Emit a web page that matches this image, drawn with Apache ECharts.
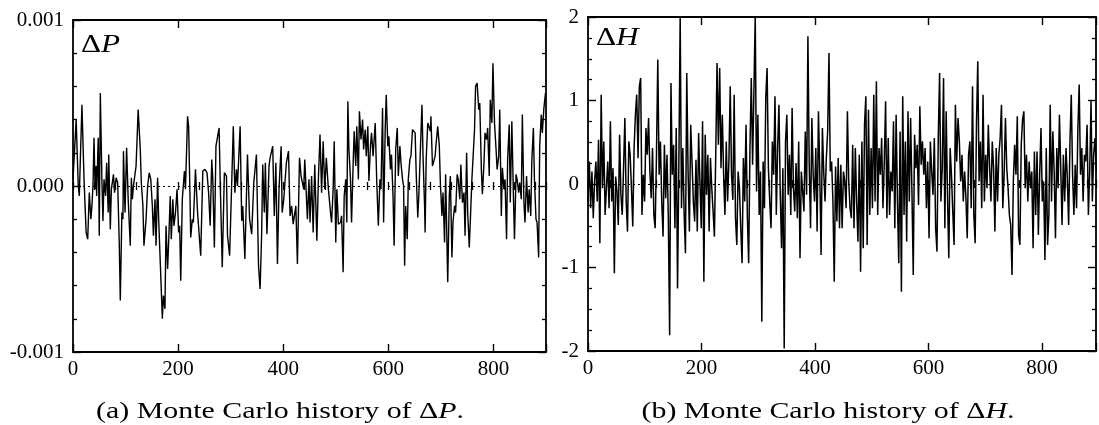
<!DOCTYPE html>
<html>
<head>
<meta charset="utf-8">
<script src="https://cdn.jsdelivr.net/npm/echarts@6/dist/echarts.min.js"></script>
<style>
  html, body { margin: 0; padding: 0; background: #fff; }
  #chart { width: 1099px; height: 425px; }
</style>
</head>
<body>
<div id="chart"></div>
<script>
// ---------------- data ----------------
// Monte Carlo step and Delta P (in units of 1e-4)
const deltaP = [
[0,0.4],[6,4.0],[10,0.0],[12,-0.6],[17,4.9],[21,0.4],[25,-2.8],[28,-3.2],[31,-0.4],[34,-2.0],[36,-1.2],[38,0.0],[40,2.9],[42,-0.2],[44,1.2],[45,-0.6],[48,2.9],[50,-3.0],[52,5.6],[55,0.4],[57,-2.1],[59,0.4],[62,-0.6],[64,1.4],[67,-1.6],[68,1.9],[71,-2.6],[73,-0.2],[77,0.7],[79,-0.4],[82,0.5],[85,0.2],[88,-3.4],[90,-6.9],[93,-1.6],[95,-2.0],[96,2.1],[99,-1.6],[102,2.3],[105,-0.8],[109,-3.6],[111,0.5],[113,-0.8],[115,0.0],[120,1.2],[124,4.6],[128,2.2],[130,0.2],[133,-1.2],[135,-3.6],[139,-2.0],[142,0.0],[145,0.8],[148,0.4],[151,-1.2],[153,-3.0],[156,-0.8],[158,-3.6],[161,0.5],[163,-2.0],[167,-5.4],[170,-8.0],[172,-6.6],[175,-7.4],[177,-2.4],[180,-5.0],[182,-3.4],[185,-0.6],[187,-3.2],[190,-0.8],[192,-2.4],[195,-1.6],[198,-0.2],[201,-2.8],[203,-2.4],[205,-5.7],[208,-0.8],[212,0.9],[214,-0.2],[218,4.2],[220,3.6],[222,0.4],[224,-3.1],[227,-2.0],[229,-2.2],[233,1.0],[237,-1.6],[243,-4.2],[247,0.9],[251,1.0],[255,0.8],[258,-0.4],[261,-2.4],[264,1.6],[266,0.4],[269,-3.7],[272,2.4],[278,3.5],[280,0.4],[284,-4.9],[288,0.8],[292,0.6],[294,-3.0],[298,-4.2],[302,0.2],[305,3.6],[308,-0.4],[311,1.0],[313,0.0],[318,3.6],[321,-2.1],[323,-1.2],[327,-4.4],[332,1.9],[336,-2.0],[340,-2.9],[344,0.2],[349,1.9],[353,-4.8],[356,-6.2],[359,-2.8],[361,1.3],[364,-1.6],[366,1.4],[369,-2.9],[373,1.2],[375,1.7],[380,2.4],[383,-1.8],[386,1.4],[389,-4.7],[392,-0.2],[396,2.4],[398,-1.6],[401,-0.8],[406,1.4],[410,2.1],[413,-1.8],[416,-1.2],[419,-2.3],[424,-1.2],[427,-4.7],[431,1.7],[434,0.6],[439,-0.2],[441,1.6],[446,-2.0],[449,0.4],
[451,-2.2],[454,0.6],[457,-2.8],[460,1.3],[464,-3.3],[467,0.5],[470,3.1],[473,-0.4],[476,2.7],[479,-0.2],[482,1.7],[486,-0.2],[490,-1.6],[492,-2.2],[495,-0.2],[497,2.7],[500,-3.4],[502,-0.2],[505,-2.3],[509,-2.2],[511,-1.8],[514,-5.2],[516,-0.6],[519,0.4],[521,-2.2],[523,5.1],[525,2.2],[528,0.4],[530,-2.2],[533,1.3],[535,3.3],[538,1.2],[540,3.6],[543,0.4],[545,4.5],[548,2.8],[551,4.0],[553,2.2],[556,3.4],[558,1.8],[561,3.6],[563,0.3],[566,2.4],[568,3.2],[571,1.8],[575,3.8],[578,0.2],[581,-2.4],[584,0.4],[586,-0.2],[589,4.7],[591,-2.2],[594,3.4],[596,5.5],[599,2.4],[601,3.0],[604,1.0],[606,1.9],[609,-0.7],[611,-3.6],[614,2.2],[617,3.5],[619,0.6],[622,2.4],[624,1.4],[627,0.4],[629,0.0],[631,-4.8],[633,-1.2],[636,-3.2],[638,0.4],[641,1.6],[643,1.8],[646,3.4],[648,3.5],[651,3.2],[653,0.8],[656,-1.9],[658,-0.6],[661,2.2],[664,4.9],[666,1.8],[669,-1.2],[670,-2.8],[672,1.6],[675,3.8],[678,3.7],[680,3.3],[681,4.2],[684,1.2],[686,1.1],[689,1.8],[691,2.6],[694,3.6],[697,2.4],[699,0.2],[702,-1.8],[704,-0.4],[707,-3.4],[709,0.7],[713,-5.8],[716,-0.6],[718,0.6],[721,-4.3],[723,-2.2],[726,-1.2],[728,-1.6],[731,0.7],[733,0.4],[736,-0.8],[738,1.3],[741,-1.0],[744,-0.4],[746,-3.0],[749,2.0],[751,-1.6],[754,-3.7],[756,-2.1],[759,0.4],[761,1.6],[764,3.4],[766,6.0],[769,6.2],[772,4.6],[774,5.0],[777,1.0],[779,-0.5],[782,1.4],[784,3.2],[787,2.8],[789,3.5],[792,0.6],[794,5.2],[797,3.8],[799,7.4],[802,3.8],[805,2.2],[807,1.0],[810,1.8],[812,4.6],[815,-1.8],[817,1.1],[820,-0.2],[822,0.4],[825,-3.2],[827,1.6],[830,3.7],[832,-1.0],[835,3.9],[838,-0.6],[840,-3.2],[843,0.7],[845,0.4],[848,-0.4],[850,0.2],[853,-0.8],[855,4.3],[858,-1.0],[860,-2.2],[863,0.6],[866,-1.6],[868,-0.2],[871,-1.8],[873,1.5],[876,3.5],[878,0.4],[881,-2.0],[883,-2.2],[886,-4.3],[888,2.4],[891,4.3],[893,3.2],[896,4.7],[899,5.6]
];
const P_UNIT = 1e-4;

// Delta H, sampled every H_STEP Monte Carlo steps
const H_STEP = 2.32;
const deltaH = [
-0.21,0.27,-0.29,0.15,-0.41,0.03,0.27,-0.21,0.53,-0.71,
1.07,-0.05,0.51,-0.37,-0.05,0.27,-0.29,0.75,-0.21,0.19,
-1.07,0.09,-0.09,-0.49,0.59,-0.13,-0.37,0.19,0.79,-0.21,
-0.57,0.51,0.35,-0.05,-0.51,0.43,0.83,1.07,0.31,1.17,
1.27,-0.37,0.11,-0.21,0.67,0.35,0.79,0.15,-0.17,0.43,
-0.37,-0.53,0.35,1.49,0.11,0.51,-0.21,-0.63,0.47,-0.17,
0.35,-0.41,-1.81,1.21,0.11,0.47,-0.53,0.67,-1.25,0.23,
2.02,-0.29,0.43,-0.35,-0.83,1.33,0.15,-0.57,0.71,0.27,
-0.21,-0.45,0.29,-0.57,0.61,0.03,-0.53,0.75,-1.17,0.59,
-0.13,0.35,-0.57,0.31,-0.05,-0.33,-0.63,0.35,1.45,0.47,
1.39,0.19,0.83,0.11,-0.37,0.51,-0.21,0.27,1.17,0.11,
-0.19,1.07,-0.41,-0.73,0.15,-0.05,-0.53,-0.95,0.31,-0.21,
0.71,-0.37,-0.95,0.43,1.27,0.23,1.11,2.02,-0.09,0.83,
-0.37,0.15,-1.65,0.27,-0.29,1.03,1.39,0.19,-0.21,-0.53,
0.51,0.11,1.05,-0.37,0.43,0.95,-0.13,-0.77,0.19,-1.97,
0.51,0.83,-0.13,0.35,-0.37,0.91,-0.05,-0.33,0.25,-0.41,
0.51,-0.89,0.15,0.15,-0.33,0.63,-0.13,1.77,0.23,-0.53,
0.79,0.11,-0.21,0.43,-0.57,0.87,0.15,-0.85,0.67,0.15,
-0.21,0.31,0.63,1.57,0.15,0.27,-0.21,-1.17,0.21,-0.45,
0.31,-0.53,0.23,
-0.53,0.15,0.03,-0.29,0.87,0.03,-0.29,-0.41,0.47,-0.53,
0.43,-0.21,-0.69,0.35,-1.05,0.51,-0.77,0.71,1.05,-0.73,
0.89,-0.37,0.43,-0.29,1.07,-0.21,1.23,-0.37,0.43,0.11,
0.55,-0.29,0.27,0.99,-0.41,0.55,-0.37,0.15,-0.09,0.75,
-0.53,0.83,-0.21,-0.95,0.63,-1.29,1.05,-0.37,0.51,-0.69,
0.87,-0.21,0.79,-0.09,-1.09,0.59,0.19,0.47,-0.25,0.93,
0.23,0.51,0.11,0.43,-0.29,0.27,-0.65,0.51,0.15,-0.13,
0.55,-0.53,-0.81,0.55,1.33,-0.21,0.19,1.27,-0.53,0.87,
-0.13,-0.89,0.43,0.11,-0.33,-0.73,0.95,0.27,0.79,0.51,
0.03,0.35,-0.21,0.15,-0.17,-0.65,0.35,0.51,-0.29,1.17,
-0.37,-0.71,0.71,1.47,0.03,0.51,-0.29,1.07,-0.21,0.35,
-0.05,0.71,0.19,-0.21,0.51,0.19,-0.57,0.43,-0.21,0.35,
0.55,0.95,-0.29,0.11,0.79,0.19,-0.05,-0.37,-0.49,-1.09,
0.03,0.47,0.11,0.81,-0.61,-0.73,0.47,0.77,0.87,-0.05,
0.35,-0.21,0.27,-0.05,0.15,-0.77,0.39,-0.37,0.39,-0.61,
0.11,0.67,-0.21,0.03,-0.91,0.43,-0.73,-0.37,0.95,-0.21,
0.63,0.15,-0.65,0.43,-0.05,0.83,0.19,-0.49,0.35,-0.21,
0.43,0.07,-0.49,0.51,1.07,0.11,-0.37,0.23,-0.29,0.65,
1.19,0.11,0.43,-0.21,0.35,0.27,0.71,-0.37,0.15,1.0,
-0.21,0.35,0.55,0.15
];

// tick labels
const xTickLabels = ['0', '200', '400', '600', '800'];
const yTickLabelsP = ['-0.001', '0.000', '0.001'];
const yTickLabelsH = ['-2', '-1', '0', '1', '2'];
const captionA = '(a) Monte Carlo history of Δ{i|P}.';
const captionB = '(b) Monte Carlo history of Δ{i|H}.';

// ---------------- chart ----------------
const SERIF = 'Liberation Serif';
const INK = '#000';
const TICK_FONT = 21;
const chart = echarts.init(document.getElementById('chart'), null, { renderer: 'canvas' });

function xLabel(v) {
  const k = Math.round(v / 200);
  return (Math.abs(v - k * 200) < 1e-6 && k >= 0 && k < xTickLabels.length) ? xTickLabels[k] : '';
}

function makeXAxes(gi, max) {
  const base = {
    gridIndex: gi, type: 'value', min: 0, max: max,
    splitLine: { show: false },
    axisLine: { show: true, onZero: false, lineStyle: { color: INK, width: 1.8 } }
  };
  const major = { inside: true, length: 8, lineStyle: { color: INK, width: 1.4 } };
  const minor = { inside: true, length: 4, lineStyle: { color: INK, width: 1.3 } };
  return [
    Object.assign({}, base, { position: 'bottom', interval: 200, axisTick: major,
      axisLabel: { show: true, margin: 7, color: INK, fontFamily: SERIF, fontSize: TICK_FONT, formatter: xLabel, showMaxLabel: true } }),
    Object.assign({}, base, { position: 'bottom', interval: 40, axisLine: { show: false }, axisTick: minor, axisLabel: { show: false } }),
    Object.assign({}, base, { position: 'top', interval: 200, axisTick: major, axisLabel: { show: false } }),
    Object.assign({}, base, { position: 'top', interval: 40, axisLine: { show: false }, axisTick: minor, axisLabel: { show: false } })
  ];
}

function makeYAxes(gi, min, max, interval, split, labels) {
  const base = {
    gridIndex: gi, type: 'value', min: min, max: max, interval: interval,
    splitLine: { show: false },
    axisLine: { show: true, onZero: false, lineStyle: { color: INK, width: 1.8 } },
    axisTick: { inside: true, length: 8, lineStyle: { color: INK, width: 1.4 } },
    minorTick: { show: true, splitNumber: split, length: 4, lineStyle: { color: INK, width: 1.3 } }
  };
  const fmt = function (v) {
    const k = Math.round((v - min) / interval);
    return labels[k] !== undefined ? labels[k] : '';
  };
  return [
    Object.assign({}, base, { position: 'left',
      axisLabel: { show: true, margin: 9, color: INK, fontFamily: SERIF, fontSize: TICK_FONT, formatter: fmt } }),
    Object.assign({}, base, { position: 'right', axisLabel: { show: false } })
  ];
}

const zeroLine = {
  silent: true, symbol: ['none', 'none'], animation: false,
  label: { show: false },
  lineStyle: { color: INK, width: 1, type: [2, 3] },
  data: [{ yAxis: 0 }]
};

const option = {
  backgroundColor: '#fff',
  animation: false,
  grid: [
    { left: 73, top: 20, width: 473, height: 332 },
    { left: 588, top: 17, width: 510, height: 334 }
  ],
  xAxis: makeXAxes(0, 900).concat(makeXAxes(1, 895)),
  yAxis: makeYAxes(0, -0.001, 0.001, 0.001, 5, yTickLabelsP).concat(makeYAxes(1, -2, 2, 1, 4, yTickLabelsH)),
  series: [
    {
      type: 'line', xAxisIndex: 0, yAxisIndex: 0,
      data: deltaP.map(function (p) { return [p[0], p[1] * P_UNIT]; }),
      showSymbol: false, symbol: 'none', lineStyle: { color: INK, width: 1.4 },
      markLine: zeroLine, z: 3
    },
    {
      type: 'line', xAxisIndex: 4, yAxisIndex: 2,
      data: deltaH.map(function (v, i) { return [i * H_STEP, v]; }),
      showSymbol: false, symbol: 'none', lineStyle: { color: INK, width: 1.5 },
      markLine: zeroLine, z: 3
    }
  ],
  graphic: [
    { type: 'text', x: 81, y: 45, scaleX: 1.2, z: 10,
      style: { text: '{d|Δ}{i|P}', align: 'left', verticalAlign: 'middle', fill: INK,
        fontFamily: SERIF, fontSize: 26,
        rich: { d: { fontFamily: SERIF, fontSize: 26, fill: INK }, i: { fontFamily: SERIF, fontSize: 26, fontStyle: 'italic', fill: INK } } } },
    { type: 'text', x: 596, y: 38, scaleX: 1.2, z: 10,
      style: { text: '{d|Δ}{i|H}', align: 'left', verticalAlign: 'middle', fill: INK,
        fontFamily: SERIF, fontSize: 26,
        rich: { d: { fontFamily: SERIF, fontSize: 26, fill: INK }, i: { fontFamily: SERIF, fontSize: 26, fontStyle: 'italic', fill: INK } } } },
    { type: 'text', x: 280, y: 412, scaleX: 1.3, z: 10,
      style: { text: captionA, align: 'center', verticalAlign: 'middle', fill: INK,
        fontFamily: SERIF, fontSize: 23,
        rich: { i: { fontFamily: SERIF, fontSize: 23, fontStyle: 'italic', fill: INK } } } },
    { type: 'text', x: 828, y: 412, scaleX: 1.3, z: 10,
      style: { text: captionB, align: 'center', verticalAlign: 'middle', fill: INK,
        fontFamily: SERIF, fontSize: 23,
        rich: { i: { fontFamily: SERIF, fontSize: 23, fontStyle: 'italic', fill: INK } } } }
  ]
};
chart.setOption(option);
</script>
</body>
</html>
